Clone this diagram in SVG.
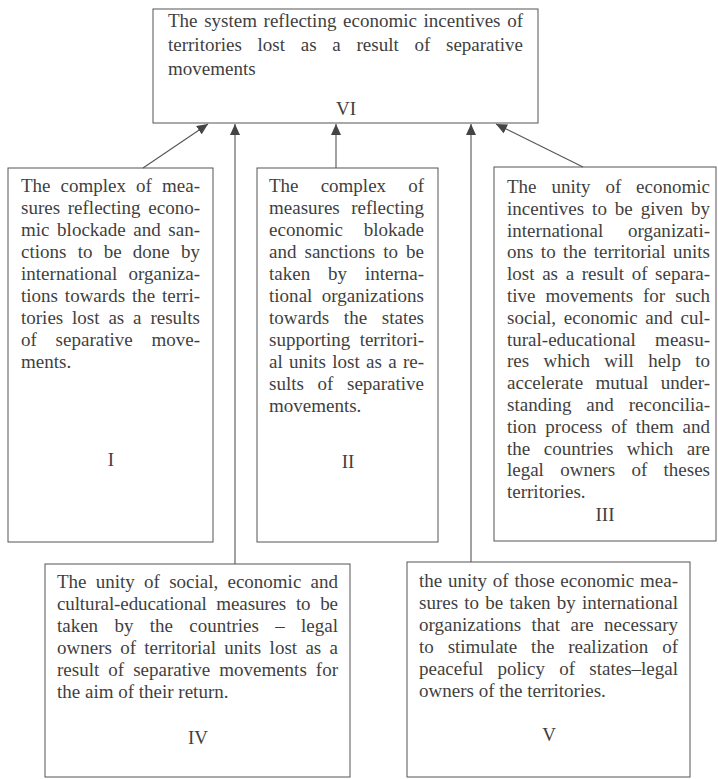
<svg xmlns="http://www.w3.org/2000/svg" width="718" height="779" viewBox="0 0 718 779">
<defs>
<style>
.box{fill:none;stroke:#555;stroke-width:1}
.t{font-family:"Liberation Serif","Times New Roman",serif;font-size:19px;fill:#3f3f3f}
.c{text-anchor:middle}
.con{stroke:#555;stroke-width:1.1;fill:none;marker-end:url(#ah)}
</style>
<marker id="ah" markerUnits="userSpaceOnUse" markerWidth="11" markerHeight="10" refX="11" refY="5" orient="auto">
<path d="M0,0 L11,5 L0,10 z" fill="#444"/>
</marker>
</defs>
<rect width="718" height="779" fill="#fff"/>

<g id="connectors">
<line class="con" x1="143" y1="168" x2="208" y2="124"/>
<line class="con" x1="235" y1="564" x2="235" y2="124"/>
<line class="con" x1="336" y1="168" x2="336" y2="124"/>
<line class="con" x1="471" y1="562" x2="471" y2="124"/>
<line class="con" x1="583" y1="167" x2="496" y2="124"/>
</g>

<g id="node-VI">
<rect class="box" x="153" y="9" width="385" height="114"/>
<text class="t" x="168" y="27" word-spacing="1.9" textLength="355" lengthAdjust="spacing">The system reflecting economic incentives of</text>
<text class="t" x="168" y="51" word-spacing="11" textLength="355" lengthAdjust="spacing">territories lost as a result of separative</text>
<text class="t" x="168" y="75">movements</text>
<text class="t c" x="346" y="115">VI</text>
</g>

<g id="node-I">
<rect class="box" x="8" y="168" width="205" height="374"/>
<text class="t" x="21" y="192" word-spacing="5.3" textLength="179" lengthAdjust="spacing">The complex of mea-</text>
<text class="t" x="21" y="214" word-spacing="2.9" textLength="179" lengthAdjust="spacing">sures reflecting econo-</text>
<text class="t" x="21" y="236" word-spacing="2.9" textLength="179" lengthAdjust="spacing">mic blockade and san-</text>
<text class="t" x="21" y="258" word-spacing="6.5" textLength="179" lengthAdjust="spacing">ctions to be done by</text>
<text class="t" x="21" y="280" word-spacing="6.5" textLength="179" lengthAdjust="spacing">international organiza-</text>
<text class="t" x="21" y="302" word-spacing="2.1" textLength="179" lengthAdjust="spacing">tions towards the terri-</text>
<text class="t" x="21" y="324" word-spacing="4.1" textLength="179" lengthAdjust="spacing">tories lost as a results</text>
<text class="t" x="21" y="346" word-spacing="14" textLength="179" lengthAdjust="spacing">of separative move-</text>
<text class="t" x="21" y="368">ments.</text>
<text class="t c" x="111" y="466">I</text>
</g>

<g id="node-II">
<rect class="box" x="257" y="168" width="181" height="374"/>
<text class="t" x="269" y="192" word-spacing="17.3" textLength="155" lengthAdjust="spacing">The complex of</text>
<text class="t" x="269" y="214" word-spacing="6.7" textLength="155" lengthAdjust="spacing">measures reflecting</text>
<text class="t" x="269" y="236" word-spacing="16.2" textLength="155" lengthAdjust="spacing">economic blokade</text>
<text class="t" x="269" y="258" word-spacing="3.3" textLength="155" lengthAdjust="spacing">and sanctions to be</text>
<text class="t" x="269" y="280" word-spacing="13.1" textLength="155" lengthAdjust="spacing">taken by interna-</text>
<text class="t" x="269" y="302" word-spacing="4.6" textLength="155" lengthAdjust="spacing">tional organizations</text>
<text class="t" x="269" y="324" word-spacing="10" textLength="155" lengthAdjust="spacing">towards the states</text>
<text class="t" x="269" y="346" word-spacing="4.6" textLength="155" lengthAdjust="spacing">supporting territori-</text>
<text class="t" x="269" y="368" word-spacing="1.5" textLength="155" lengthAdjust="spacing">al units lost as a re-</text>
<text class="t" x="269" y="390" word-spacing="8.9" textLength="155" lengthAdjust="spacing">sults of separative</text>
<text class="t" x="269" y="412">movements.</text>
<text class="t c" x="348" y="468">II</text>
</g>

<g id="node-III">
<rect class="box" x="494" y="167" width="222" height="374"/>
<text class="t" x="507" y="193" word-spacing="10.1" textLength="203" lengthAdjust="spacing">The unity of economic</text>
<text class="t" x="507" y="214.8" word-spacing="3.2" textLength="203" lengthAdjust="spacing">incentives to be given by</text>
<text class="t" x="507" y="236.6" word-spacing="19.9" textLength="203" lengthAdjust="spacing">international organizati-</text>
<text class="t" x="507" y="258.4" word-spacing="2.7" textLength="203" lengthAdjust="spacing">ons to the territorial units</text>
<text class="t" x="507" y="280.2" word-spacing="2.9" textLength="203" lengthAdjust="spacing">lost as a result of separa-</text>
<text class="t" x="507" y="302" word-spacing="5.2" textLength="203" lengthAdjust="spacing">tive movements for such</text>
<text class="t" x="507" y="323.8" word-spacing="2.9" textLength="203" lengthAdjust="spacing">social, economic and cul-</text>
<text class="t" x="507" y="345.6" word-spacing="14.6" textLength="203" lengthAdjust="spacing">tural-educational measu-</text>
<text class="t" x="507" y="367.4" word-spacing="9.6" textLength="203" lengthAdjust="spacing">res which will help to</text>
<text class="t" x="507" y="389.2" word-spacing="7.6" textLength="203" lengthAdjust="spacing">accelerate mutual under-</text>
<text class="t" x="507" y="411" word-spacing="10.2" textLength="203" lengthAdjust="spacing">standing and reconcilia-</text>
<text class="t" x="507" y="432.8" word-spacing="4" textLength="203" lengthAdjust="spacing">tion process of them and</text>
<text class="t" x="507" y="454.6" word-spacing="8.7" textLength="203" lengthAdjust="spacing">the countries which are</text>
<text class="t" x="507" y="476.4" word-spacing="11.6" textLength="203" lengthAdjust="spacing">legal owners of theses</text>
<text class="t" x="507" y="498.2">territories.</text>
<text class="t c" x="605" y="521">III</text>
</g>

<g id="node-IV">
<rect class="box" x="45" y="564" width="305" height="213"/>
<text class="t" x="57" y="588" word-spacing="4.5" textLength="281" lengthAdjust="spacing">The unity of social, economic and</text>
<text class="t" x="57" y="610" word-spacing="5.1" textLength="281" lengthAdjust="spacing">cultural-educational measures to be</text>
<text class="t" x="57" y="632" word-spacing="11.6" textLength="281" lengthAdjust="spacing">taken by the countries – legal</text>
<text class="t" x="57" y="654" word-spacing="3.6" textLength="281" lengthAdjust="spacing">owners of territorial units lost as a</text>
<text class="t" x="57" y="676" word-spacing="4.3" textLength="281" lengthAdjust="spacing">result of separative movements for</text>
<text class="t" x="57" y="698">the aim of their return.</text>
<text class="t c" x="198" y="744">IV</text>
</g>

<g id="node-V">
<rect class="box" x="407" y="562" width="283" height="215"/>
<text class="t" x="419" y="587" word-spacing="1" textLength="259" lengthAdjust="spacing">the unity of those economic mea-</text>
<text class="t" x="419" y="609" word-spacing="1.5" textLength="259" lengthAdjust="spacing">sures to be taken by international</text>
<text class="t" x="419" y="631" word-spacing="5.6" textLength="259" lengthAdjust="spacing">organizations that are necessary</text>
<text class="t" x="419" y="653" word-spacing="9.1" textLength="259" lengthAdjust="spacing">to stimulate the realization of</text>
<text class="t" x="419" y="675" word-spacing="9.5" textLength="259" lengthAdjust="spacing">peaceful policy of states–legal</text>
<text class="t" x="419" y="697">owners of the territories.</text>
<text class="t c" x="549" y="741">V</text>
</g>
</svg>
